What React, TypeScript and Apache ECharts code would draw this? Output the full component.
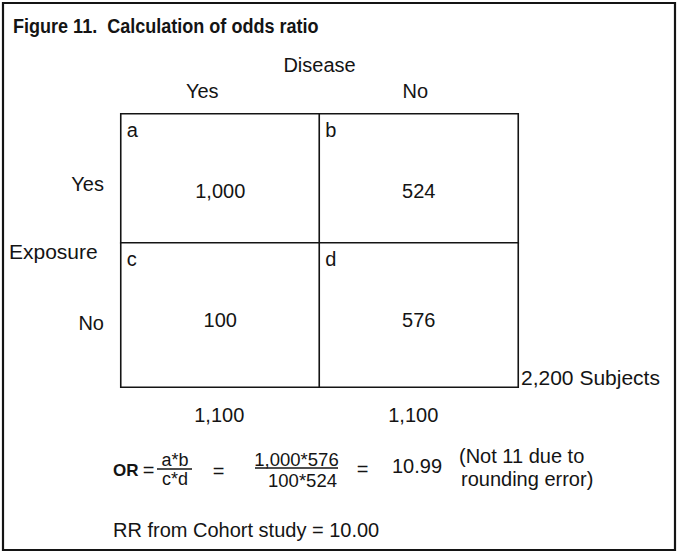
import React, { useEffect, useRef } from 'react';
import * as echarts from 'echarts';

// ---- data ----
const titleText = 'Figure 11.\u00a0 Calculation of odds ratio';
const columnHeader = 'Disease';
const rowHeader = 'Exposure';
const diseaseCats = ['Yes', 'No'];
const exposureCats = ['Yes', 'No'];
const cellLetters = [['a', 'b'], ['c', 'd']];
const cellValues = [[1000, 524], [100, 576]];
const colTotals = [1100, 1100];
const totalSubjects = 2200;
const orTop = ['a*b', '1,000*576'];
const orBottom = ['c*d', '100*524'];
const orValue = '10.99';
const orNote = ['(Not 11 due to', 'rounding error)'];
const rrValue = '10.00';

const FONT = "'Liberation Sans', Arial, Helvetica, sans-serif";
const INK = '#141414';
const fmt = (n: number) => n.toLocaleString('en-US');

const txt = (text: string, x: number, y: number, extra: any = {}, el: any = {}) => ({
  type: 'text',
  x,
  y,
  ...el,
  style: {
    text,
    fontFamily: FONT,
    fontSize: 20,
    fill: INK,
    align: 'left',
    verticalAlign: 'middle',
    ...extra,
  },
});

const hline = (x1: number, x2: number, y: number, w = 1.3) => ({
  type: 'line',
  shape: { x1, y1: y, x2, y2: y },
  style: { stroke: INK, lineWidth: w },
});

export default function App() {
  const ref = useRef<HTMLDivElement>(null);
  useEffect(() => {
    if (!ref.current) return;
    const chart = echarts.init(ref.current, undefined, { renderer: 'svg' });

    const rowData = (r: number) => cellValues[r].map((v, c) => [c, 0, v]);
    const labelBase = { fontFamily: FONT, fontSize: 20, color: INK };

    const valueSeries = (r: number, offsetY: number) => ({
      type: 'heatmap',
      xAxisIndex: r,
      yAxisIndex: r,
      data: rowData(r),
      itemStyle: { borderColor: INK, borderWidth: 1.6 },
      label: {
        show: true,
        ...labelBase,
        offset: [0, offsetY],
        formatter: (p: any) => fmt(p.value[2]),
      },
      emphasis: { disabled: true },
      z: 2,
    });

    const letterSeries = (r: number) => ({
      type: 'heatmap',
      xAxisIndex: r,
      yAxisIndex: r,
      data: rowData(r),
      itemStyle: { borderWidth: 0 },
      label: {
        show: true,
        ...labelBase,
        position: 'insideTopLeft',
        distance: 6,
        formatter: (p: any) => cellLetters[r][p.value[0]],
      },
      emphasis: { disabled: true },
      z: 3,
    });

    const rowAxis = (r: number, padTop: number) => ({
      type: 'category',
      gridIndex: r,
      data: [exposureCats[r]],
      axisLine: { show: false },
      axisTick: { show: false },
      splitLine: { show: false },
      axisLabel: {
        ...labelBase,
        margin: 17,
        formatter: (v: string) => `{r|${v}}`,
        rich: { r: { ...labelBase, padding: [padTop, 0, 0, 0] } },
      },
    });

    const option: any = {
      animation: false,
      backgroundColor: '#ffffff',
      visualMap: [
        {
          type: 'continuous',
          show: false,
          min: 0,
          max: 2000,
          seriesIndex: [0, 1],
          inRange: { color: ['#ffffff', '#ffffff'] },
        },
        {
          type: 'continuous',
          show: false,
          min: 0,
          max: 2000,
          seriesIndex: [2, 3],
          inRange: { color: ['rgba(255,255,255,0)', 'rgba(255,255,255,0)'] },
        },
      ],
      grid: [
        { left: 121, top: 114, width: 397, height: 129 },
        { left: 121, top: 243, width: 397, height: 144 },
      ],
      xAxis: [
        {
          type: 'category',
          gridIndex: 0,
          position: 'top',
          data: diseaseCats,
          axisLine: { show: false },
          axisTick: { show: false },
          splitLine: { show: false },
          axisLabel: {
            ...labelBase,
            margin: 13,
            formatter: (v: string, i: number) => `{h${i}|${v}}`,
            rich: {
              h0: { ...labelBase, padding: [0, 36, 0, 0] },
              h1: { ...labelBase, padding: [0, 7, 0, 0] },
            },
          },
        },
        {
          type: 'category',
          gridIndex: 1,
          position: 'bottom',
          data: diseaseCats,
          axisLine: { show: false },
          axisTick: { show: false },
          splitLine: { show: false },
          axisLabel: {
            ...labelBase,
            margin: 18,
            formatter: (_v: string, i: number) => `{t${i}|${fmt(colTotals[i])}}`,
            rich: {
              t0: { ...labelBase, padding: [0, 2, 0, 0] },
              t1: { ...labelBase, padding: [0, 11, 0, 0] },
            },
          },
        },
      ],
      yAxis: [rowAxis(0, 11), rowAxis(1, 16)],
      series: [valueSeries(0, 12), valueSeries(1, 5), letterSeries(0), letterSeries(1)],
      graphic: [
        {
          type: 'rect',
          shape: { x: 3, y: 3, width: 672, height: 547 },
          style: { fill: 'none', stroke: INK, lineWidth: 2.2 },
          z: -1,
        },
        txt(titleText, 13, 26, { fontSize: 20.5, fontWeight: 'bold' }, { scaleX: 0.88 }),
        txt(columnHeader, 319.5, 64.5, { align: 'center' }),
        txt(rowHeader, 9, 251, { fontSize: 21 }),
        txt(`${fmt(totalSubjects)} Subjects`, 521, 377, { fontSize: 21 }),
        // OR formula
        txt('OR', 113, 470, { fontWeight: 'bold', fontSize: 17 }),
        txt('=', 148.5, 470, { align: 'center' }),
        txt(orTop[0], 175, 460, { align: 'center', fontSize: 18 }),
        hline(157, 192, 469),
        txt(orBottom[0], 175, 479, { align: 'center', fontSize: 18 }),
        txt('=', 218.5, 471, { align: 'center' }),
        txt(orTop[1], 296.5, 459, { align: 'center', fontSize: 18.5 }),
        hline(255, 338, 468),
        txt(orBottom[1], 302.5, 480, { align: 'center', fontSize: 18.5 }),
        txt('=', 362.5, 469, { align: 'center' }),
        txt(orValue, 392, 466),
        txt(orNote[0], 459, 456),
        txt(orNote[1], 461, 479),
        txt(`RR from Cohort study = ${rrValue}`, 113, 530),
      ],
    };

    chart.setOption(option);
    return () => chart.dispose();
  }, []);

  return (
    <div
      ref={ref}
      style={{ position: 'fixed', left: 0, top: 0, width: 678, height: 553, background: '#fff' }}
    />
  );
}
